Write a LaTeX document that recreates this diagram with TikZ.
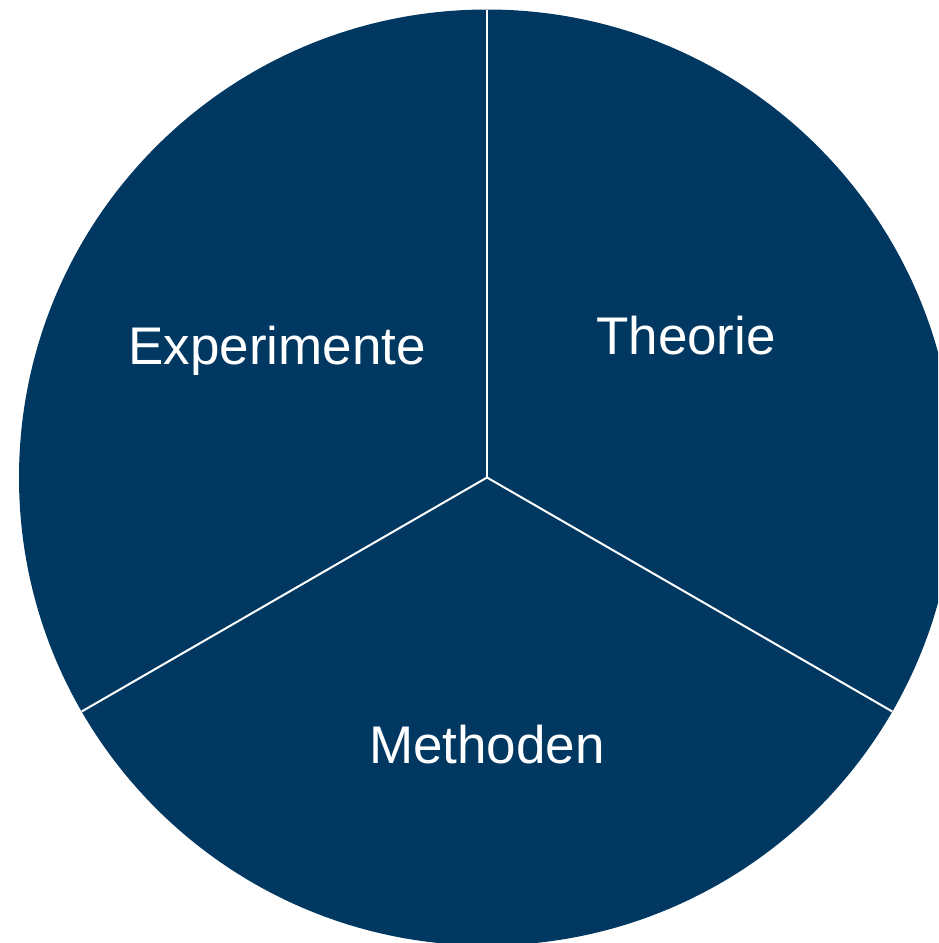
\documentclass[tikz,border=0pt]{standalone}
\usepackage{fontspec}
\setmainfont{Liberation Sans}
\usepackage{xcolor}
\definecolor{piefill}{RGB}{0,56,98}

\begin{document}
\begin{tikzpicture}[x = 1pt, y = -1pt]
	\useasboundingbox (0,0) rectangle (938,943);
	\clip (0,0) rectangle (938,943);
	
	\coordinate (m) at (487,477.5);
	\fill[piefill] (m) circle [radius = 468];
	
	\draw[white, line width = 2pt] (m) -- ++(270:468) coordinate (top);
	\draw[white, line width = 2pt] (m) -- ++(150:468) coordinate (left);
	\draw[white, line width = 2pt] (m) -- ++(30:468) coordinate (right);
	
	\begin{scope}[every node/.style = {text = white, font = \fontsize{53}{60}\selectfont}]
		\node (exp) at (277,351) {Experimente};
		\node (theo) at (686,336) {Theorie};
		\node (meth) at (487,745) {Methoden};
	\end{scope}
	
\end{tikzpicture}
\end{document}
